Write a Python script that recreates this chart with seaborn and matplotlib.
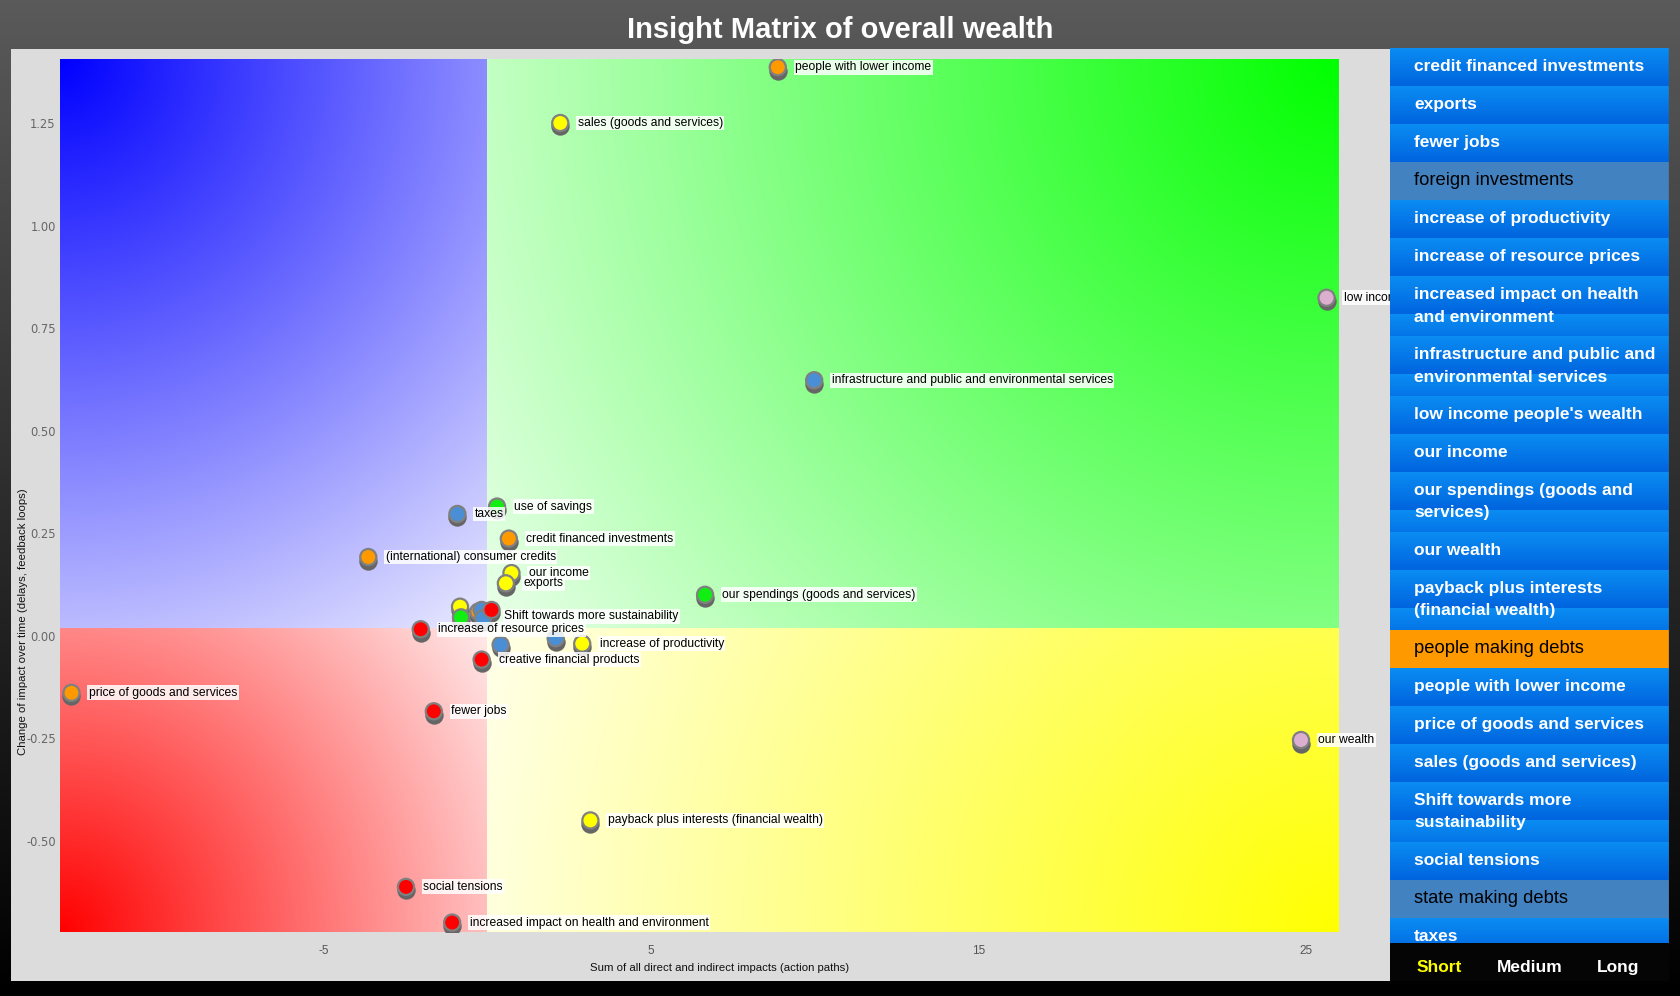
import textwrap
import numpy as np
import pandas as pd
import matplotlib
matplotlib.use("Agg")
import matplotlib.pyplot as plt
from matplotlib.transforms import offset_copy
from matplotlib.patches import Rectangle
import seaborn as sns

# nodes of the insight matrix
labels = ["people with lower income", "sales (goods and services)", "low income people's wealth",
          "infrastructure and public and environmental services", "use of savings", "taxes",
          "credit financed investments", "(international) consumer credits", "our income", "exports",
          "our spendings (goods and services)", "", "", "", "", "",
          "Shift towards more sustainability", "increase of resource prices", "", "",
          "increase of productivity", "creative financial products", "price of goods and services",
          "fewer jobs", "our wealth", "payback plus interests (financial wealth)", "social tensions",
          "increased impact on health and environment"]
impact_sum = [8.87, 2.23, 25.62, 9.98, 0.30, -0.91, 0.66, -3.63, 0.74, 0.57, 6.65, -0.83, -0.80,
              -0.27, -0.17, -0.12, 0.13, -2.03, 0.41, 2.09, 2.90, -0.17, -12.69, -1.63, 24.84, 3.15,
              -2.48, -1.07]
impact_change = [1.386, 1.250, 0.824, 0.623, 0.315, 0.297, 0.237, 0.192, 0.153, 0.128, 0.100, 0.071,
                 0.045, 0.059, 0.063, 0.043, 0.063, 0.016, -0.022, -0.006, -0.019, -0.058, -0.139,
                 -0.184, -0.254, -0.450, -0.612, -0.699]
groups = ["orange", "yellow", "pink", "blue", "green", "blue", "orange", "orange", "yellow", "yellow",
          "green", "yellow", "green", "orange", "blue", "blue", "red", "red", "blue", "blue", "yellow",
          "red", "orange", "red", "pink", "yellow", "red", "red"]
label_nudge = {"Shift towards more sustainability": (9, -4.5)}

palette = {"orange": "#ff9900", "yellow": "#ffff00", "green": "#11ee11", "red": "#ff0000",
           "blue": "#4a8fd6", "pink": "#dcaed0"}

x_lim = (-13.04, 26.0)
y_lim = (-0.722, 1.406)
x_split, y_split = 0.0, 0.02
x_ticks = [-5, 5, 15, 25]
y_ticks = [-0.50, -0.25, 0.00, 0.25, 0.50, 0.75, 1.00, 1.25]

# side list
list_items = ["credit financed investments", "exports", "fewer jobs", "foreign investments",
              "increase of productivity", "increase of resource prices",
              "increased impact on health and environment",
              "infrastructure and public and environmental services", "low income people's wealth",
              "our income", "our spendings (goods and services)", "our wealth",
              "payback plus interests (financial wealth)", "people making debts",
              "people with lower income", "price of goods and services", "sales (goods and services)",
              "Shift towards more sustainability", "social tensions", "state making debts", "taxes"]
list_state = {"foreign investments": "off", "state making debts": "off", "people making debts": "on"}
horizons = ["Short", "Medium", "Long"]

df = pd.DataFrame({"label": labels, "x": impact_sum, "y": impact_change, "group": groups})

sns.set_theme(style="white")
plt.rcParams["font.family"] = ["Liberation Sans", "DejaVu Sans"]

fig = plt.figure(figsize=(16.8, 9.96), dpi=100)

# dark background
bg = fig.add_axes([0, 0, 1, 1], zorder=-10)
grad = np.linspace(0.353, 0.0, 256)[:, None] * np.ones((1, 4))
bg.imshow(np.dstack([grad, grad, grad]), aspect="auto", extent=(0, 1, 0, 1))
bg.set_axis_off()
panel = Rectangle((10.7 / 1680, 1 - 981.4 / 996), 1378.9 / 1680, 932.1 / 996,
                  transform=fig.transFigure, fc="#dcdcdc", ec="none", zorder=-5)
fig.patches.append(panel)

ax = fig.add_axes([60 / 1680, 1 - 932 / 996, 1279 / 1680, 873 / 996])

# quadrant gradients
W, H = 1279, 873
xx, yy = np.meshgrid(np.arange(W) + 0.5, np.arange(H) + 0.5)
px0 = (x_split - x_lim[0]) / (x_lim[1] - x_lim[0]) * W
py0 = (y_lim[1] - y_split) / (y_lim[1] - y_lim[0]) * H
img = np.ones((H, W, 3))
quads = [((xx < px0) & (yy < py0), 0, 0, px0, py0, (0, 0, 1)),
         ((xx >= px0) & (yy < py0), W, 0, W - px0, py0, (0, 1, 0)),
         ((xx < px0) & (yy >= py0), 0, H, px0, H - py0, (1, 0, 0)),
         ((xx >= px0) & (yy >= py0), W, H, W - px0, H - py0, (1, 1, 0))]
for mask, cx, cy, qw, qh, base in quads:
    t = np.clip(np.hypot(xx - cx, yy - cy) / np.hypot(qw, qh), 0, 1) * 0.92
    for k in range(3):
        img[..., k][mask] = (base[k] * (1 - t) + t)[mask]
ax.imshow(img, extent=(x_lim[0], x_lim[1], y_lim[0], y_lim[1]), aspect="auto",
          interpolation="nearest", zorder=0)

shadow = offset_copy(ax.transData, fig=fig, x=0, y=-3.5, units="dots")
sns.scatterplot(data=df, x="x", y="y", color="#666666", s=175, linewidth=0, ax=ax,
                transform=shadow, legend=False, zorder=2)
sns.scatterplot(data=df, x="x", y="y", hue="group", palette=palette, s=135, edgecolor="#808080",
                linewidth=1.6, ax=ax, legend=False, zorder=3)

for _, row in df.iterrows():
    if not row["label"]:
        continue
    dx, dy = label_nudge.get(row["label"], (12.5, 0))
    t = ax.annotate(row["label"], (row["x"], row["y"]), xytext=(dx, dy), textcoords="offset points",
                    ha="left", va="center", fontsize=8.7, color="black", zorder=5,
                    annotation_clip=False,
                    bbox=dict(boxstyle="square,pad=0.12", fc="white", ec="none", alpha=0.85))
    t.set_clip_path(panel)

ax.set_xlim(x_lim)
ax.set_ylim(y_lim)
ax.set_xticks(x_ticks)
ax.set_xticklabels([str(v) for v in x_ticks], fontsize=8.5, color="#555555")
ax.set_yticks(y_ticks)
ax.set_yticklabels([f"{v:.2f}" for v in y_ticks], fontsize=8.3, color="#666666",
                   family="DejaVu Sans")
ax.tick_params(length=0, pad=3)
ax.tick_params(axis="x", pad=9)
for s in ax.spines.values():
    s.set_visible(False)
ax.set_xlabel("Sum of all direct and indirect impacts (action paths)", fontsize=8.2, color="#111111",
              labelpad=6)
ax.xaxis.set_label_coords(0.516, -0.036)
ax.set_ylabel("Change of impact over time (delays, feedback loops)", fontsize=8.2, color="#111111")
ax.yaxis.set_label_coords(-0.025, 0.355)

fig.text(0.5, 1 - 30 / 996, "Insight Matrix of overall wealth", ha="center", va="center",
         color="white", fontsize=21, fontweight="heavy")

# side list of nodes
lax = fig.add_axes([1390 / 1680, 1 - 981 / 996, 279 / 1680, 933 / 996], zorder=3)
lax.set_xlim(0, 279)
lax.set_ylim(933, 0)
lax.set_axis_off()
list_h = 895
band = 38.0
rows_rgb = np.zeros((list_h, 1, 3))
top_c = np.array([0.04, 0.55, 0.95])
bot_c = np.array([0.0, 0.39, 0.87])
y0 = 0.0
text_rows = []
for name in list_items:
    lines = textwrap.wrap(name, 29)
    h = band if len(lines) == 1 else 60.0
    state = list_state.get(name)
    r0, r1 = int(round(y0)), min(int(round(y0 + h)), list_h)
    for r in range(r0, r1):
        if state == "off":
            rows_rgb[r, 0] = (0.26, 0.51, 0.76)
        elif state == "on":
            rows_rgb[r, 0] = (1.0, 0.6, 0.0)
        else:
            f = ((r - y0) % band) / band
            rows_rgb[r, 0] = top_c * (1 - f) + bot_c * f
    text_rows.append((y0, lines, state))
    y0 += h
lax.imshow(np.repeat(rows_rgb, 279, axis=1), extent=(0, 279, list_h, 0), aspect="auto",
           interpolation="nearest", zorder=1)
for top, lines, state in text_rows:
    for i, line in enumerate(lines):
        if state is None:
            lax.text(24, top + 18.5 + i * 22.5, line, color="white", fontsize=12.5,
                     fontweight="bold", va="center", ha="left", zorder=3, clip_on=True)
        else:
            lax.text(24, top + 18.5 + i * 22.5, line, color="black", fontsize=13.2,
                     va="center", ha="left", zorder=3, clip_on=True)
lax.add_patch(Rectangle((0, list_h), 279, 933 - list_h, fc="#050505", ec="none", zorder=5))
lax.plot([279, 279], [0, list_h], color="#555555", lw=1, zorder=6)
for name, xpos in zip(horizons, [49, 140, 228]):
    lax.text(xpos, 919.5, name, color="#ffff00" if name == "Short" else "white", fontsize=12.5,
             fontweight="bold", ha="center", va="center", zorder=6)

fig.savefig("out.png", dpi=100)
